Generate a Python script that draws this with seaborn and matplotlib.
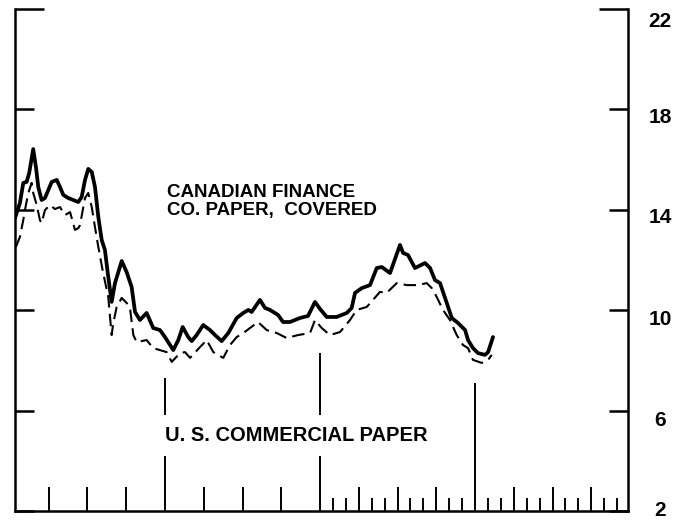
import pandas as pd
import seaborn as sns
import matplotlib.pyplot as plt
from matplotlib.ticker import FormatStrFormatter
from matplotlib.transforms import ScaledTranslation

# months from the start of the chart (4 years shown)
canada_month = [0.39, 0.77, 1.03, 1.29, 1.49, 1.80, 2.01, 2.19, 2.45, 2.71,
                2.97, 3.23, 3.62, 3.87, 4.13, 4.51, 4.90, 5.29, 5.55, 5.81,
                6.06, 6.33, 6.58, 6.84, 7.10, 7.35, 7.59, 7.87, 8.13, 8.65,
                9.03, 9.42, 9.68, 10.06, 10.58, 11.09, 11.61, 12.00, 12.64, 13.03,
                13.37, 13.80, 14.07, 14.45, 14.96, 15.48, 15.87, 16.39, 16.90, 17.55,
                18.06, 18.45, 18.71, 19.35, 19.74, 20.13, 20.75, 21.14, 21.68, 22.45,
                23.07, 23.61, 24.00, 24.52, 25.29, 26.07, 26.45, 26.71, 27.23, 27.87,
                28.39, 28.78, 29.42, 30.19, 30.43, 30.81, 31.35, 32.13, 32.52, 32.90,
                33.29, 33.81, 34.20, 34.68, 35.23, 35.46, 35.84, 36.23, 36.77, 37.01,
                37.39]
canada_rate = [13.67, 14.27, 15.07, 15.11, 15.47, 16.42, 15.71, 14.91, 14.39, 14.47,
               14.79, 15.11, 15.19, 14.91, 14.59, 14.47, 14.39, 14.31, 14.51, 15.19,
               15.63, 15.51, 14.91, 13.71, 12.80, 12.40, 11.40, 10.33, 11.08, 11.96,
               11.52, 10.92, 9.93, 9.61, 9.89, 9.29, 9.21, 8.93, 8.41, 8.81,
               9.33, 8.93, 8.77, 9.01, 9.41, 9.21, 9.01, 8.77, 9.09, 9.69,
               9.89, 10.01, 9.93, 10.41, 10.09, 10.01, 9.81, 9.53, 9.53, 9.69,
               9.77, 10.33, 10.05, 9.73, 9.73, 9.89, 10.09, 10.69, 10.88, 11.00,
               11.68, 11.72, 11.48, 12.60, 12.28, 12.20, 11.68, 11.88, 11.68, 11.20,
               11.08, 10.29, 9.69, 9.49, 9.21, 8.81, 8.49, 8.29, 8.22, 8.33,
               8.93]

us_month = [0.46, 0.77, 1.03, 1.16, 1.42, 1.68, 1.80, 2.07, 2.32, 2.45,
            2.71, 3.10, 3.48, 3.87, 4.26, 4.65, 4.78, 5.03, 5.29, 5.42,
            5.81, 6.06, 6.33, 6.58, 6.84, 7.20, 7.61, 7.87, 8.00, 8.26,
            8.65, 9.03, 9.29, 9.55, 9.81, 10.58, 11.09, 11.61, 12.13, 12.52,
            13.16, 13.55, 13.94, 14.71, 15.23, 15.74, 16.51, 17.03, 17.55, 18.06,
            18.58, 19.20, 19.87, 20.65, 21.42, 22.30, 23.23, 23.61, 24.13, 24.77,
            25.55, 26.32, 26.84, 27.62, 28.10, 28.64, 29.16, 29.94, 30.71, 31.59,
            32.26, 32.65, 33.03, 33.52, 34.06, 34.58, 35.07, 35.46, 35.84, 36.52,
            37.01, 37.29]
us_rate = [12.52, 12.92, 13.59, 13.99, 14.67, 15.07, 14.67, 14.19, 13.59, 13.47,
           13.99, 14.19, 14.03, 14.11, 13.79, 13.91, 13.67, 13.20, 13.27, 13.39,
           14.47, 14.67, 14.11, 13.31, 12.52, 11.52, 10.53, 9.01, 9.49, 10.13,
           10.49, 10.29, 10.09, 9.01, 8.73, 8.81, 8.49, 8.41, 8.33, 7.94,
           8.29, 8.33, 8.10, 8.53, 8.81, 8.33, 8.10, 8.61, 8.93, 9.09,
           9.29, 9.53, 9.21, 9.09, 8.89, 9.01, 9.09, 9.61, 9.29, 9.01,
           9.13, 9.61, 10.01, 10.13, 10.41, 10.73, 10.69, 11.08, 11.00, 11.00,
           11.08, 10.88, 10.53, 10.01, 9.61, 9.01, 8.61, 8.49, 8.02, 7.90,
           8.02, 8.22]

year_marks = [12, 24, 36]
year_line_tops = [7.3, 8.3, 7.1]
rate_ticks = [2, 6, 10, 14, 18]
top_tick = [22]

canada = pd.DataFrame({'month': canada_month, 'rate': canada_rate})
us = pd.DataFrame({'month': us_month, 'rate': us_rate})

sns.set_style('white')
plt.rcParams['font.family'] = ['Liberation Sans', 'DejaVu Sans']
plt.rcParams['font.weight'] = 'bold'
plt.rcParams['text.color'] = 'black'

fig = plt.figure(figsize=(6.86, 5.21), dpi=100)
ax = fig.add_axes([15 / 686, 10 / 521, 613 / 686, 502 / 521])

sns.lineplot(data=canada, x='month', y='rate', ax=ax, color='black',
             lw=2.7, estimator=None, sort=False)
sns.lineplot(data=us, x='month', y='rate', ax=ax, color='black',
             lw=1.5, linestyle=(0, (6, 3)), estimator=None, sort=False)

ax.vlines(year_marks, 2, year_line_tops, color='black', lw=1.4, zorder=1)

ax.set_xlim(0.39, 47.84)
ax.set_ylim(2, 22)
ax.set_xlabel('')
ax.set_ylabel('')

ax.spines['top'].set_visible(False)
for side in ['left', 'right', 'bottom']:
    ax.spines[side].set_linewidth(1.8)
    ax.spines[side].set_color('black')

# bottom ticks: quarters, plus months in the last two years
ax.set_xticks([m for m in range(3, 48, 3) if m % 12])
ax.set_xticks([m for m in range(25, 48) if m % 3], minor=True)
ax.tick_params(axis='x', which='both', direction='in', bottom=True,
               labelbottom=False, width=1.4, color='black')
ax.tick_params(axis='x', which='major', length=17.5)
ax.tick_params(axis='x', which='minor', length=9.5)

ax.set_yticks(rate_ticks)
ax.set_yticks(top_tick, minor=True)
ax.yaxis.set_major_formatter(FormatStrFormatter('%d'))
ax.yaxis.set_minor_formatter(FormatStrFormatter('%d'))
ax.tick_params(axis='y', which='both', direction='in', left=True, right=True,
               labelleft=False, labelright=True, width=1.8, color='black',
               labelsize=15, labelcolor='black', pad=23)
ax.tick_params(axis='y', which='major', length=13.7)
ax.tick_params(axis='y', which='minor', length=21)

# the scanned right scale sits a little lower than the left one
label_shift = {'22': -11, '18': -6, '14': -6, '10': -7, '6': -8, '2': 2}
fig.canvas.draw()
for lbl in ax.get_yticklabels(which='both'):
    lbl.set_ha('center')
    lbl.set_fontweight('bold')
    dy = label_shift.get(lbl.get_text(), 0) / 100
    lbl.set_transform(lbl.get_transform() + ScaledTranslation(0, dy, fig.dpi_scale_trans))

ax.text(12.13, 14.52, 'CANADIAN FINANCE', fontsize=13.5, fontweight='bold',
        va='baseline')
ax.text(12.13, 13.79, 'CO. PAPER,  COVERED', fontsize=13.5, fontweight='bold',
        va='baseline')
ax.text(12.0, 4.79, 'U. S. COMMERCIAL PAPER', fontsize=14.5, fontweight='bold',
        va='baseline', zorder=3,
        bbox=dict(facecolor='white', edgecolor='none', boxstyle='square,pad=0.55'))

fig.savefig('out.png', dpi=100)
